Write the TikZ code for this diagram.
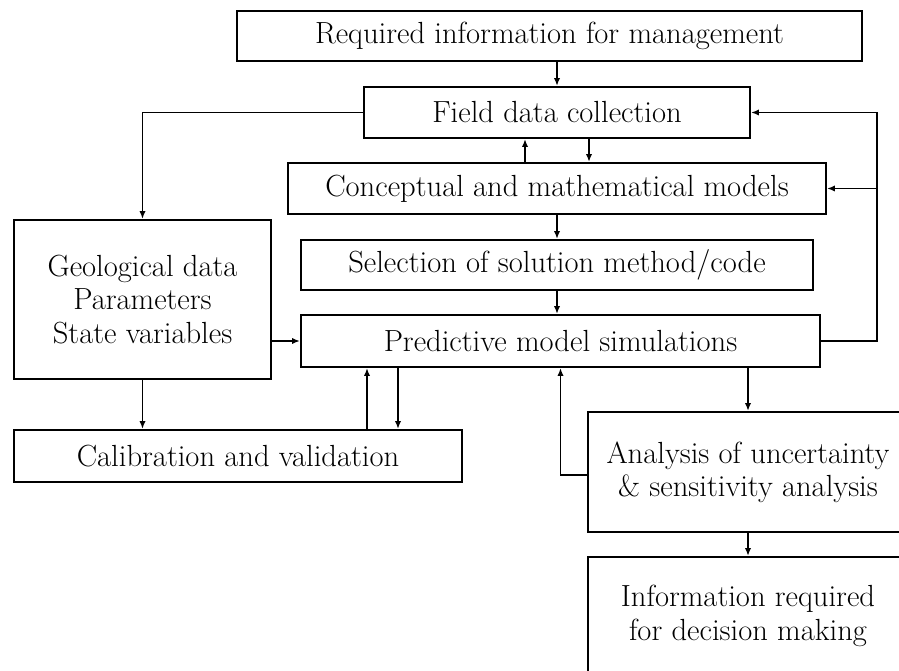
\documentclass[tikz,border=0pt]{standalone}
\usepackage{amsmath,amssymb}
\usetikzlibrary{arrows.meta}

\begin{document}
\begin{tikzpicture}[
    x=0.2mm, y=-0.2mm,
    every node/.style={font=\fontsize{17.4}{19}\selectfont},
    box/.style={draw, line width=1.2pt, inner sep=0pt, align=center},
    link/.style={line width=0.9pt, -{Latex[length=4.5pt,width=3.6pt]}}
    ]
    \clip (0,0) rectangle (899,671);
    \node[box, minimum width=125mm, minimum height=10mm] (req) at (549.5,36) {Required information for management};
    \node[box, minimum width=77.2mm, minimum height=10.2mm] (field) at (557,112.5) {Field data collection};
    \node[box, minimum width=107.6mm, minimum height=10.2mm] (concept) at (557,188.5) {Conceptual and mathematical models};
    \node[box, minimum width=51.4mm, minimum height=31.8mm] (geo) at (142.5,299.5) {Geological data\\Parameters\\State variables};
    \node[box, minimum width=102.4mm, minimum height=10mm] (select) at (557,265) {Selection of solution method/code};
    \node[box, minimum width=103.8mm, minimum height=10.4mm] (predict) at (560.5,341) {Predictive model simulations};
    \node[box, minimum width=89.6mm, minimum height=10.4mm] (calib) at (238,456) {Calibration and validation};
    \node[box, minimum width=64mm, minimum height=24mm] (uncert) at (748,472) {Analysis of uncertainty\\\& sensitivity analysis};
    \node[box, minimum width=64mm, minimum height=23.6mm] (decide) at (748,616) {Information required\\for decision making};
    \coordinate (loop) at (877,112.5);

    \draw[link] (req.south -| field.north) -- (field.north);
    \draw[link] (field.west) -| (geo.north);
    \draw[link] ([xshift=-6.4mm]concept.north) -- ([xshift=-6.4mm]field.south);
    \draw[link] ([xshift=6.4mm]field.south) -- ([xshift=6.4mm]concept.north);
    \draw[link] (concept.south) -- (select.north);
    \draw[link] (select.south) -- (select.south |- predict.north);
    \draw[link] (predict.east) -| (loop) -- (field.east);
    \draw[link] (loop |- concept.east) -- (concept.east);
    \draw[link] (geo.east |- predict.west) -- (predict.west);
    \draw[link] (geo.south) -- (geo.south |- calib.north);
    \draw[link] ([xshift=25.8mm]calib.north) -- ([xshift=25.8mm]calib.north |- predict.south);
    \draw[link] ([xshift=32mm]calib.north |- predict.south) -- ([xshift=32mm]calib.north);
    \draw[link] (predict.south -| uncert.north) -- (uncert.north);
    \draw[link] ([yshift=-0.6mm]uncert.west) -| (predict.south);
    \draw[link] (uncert.south) -- (decide.north);
\end{tikzpicture}
\end{document}
